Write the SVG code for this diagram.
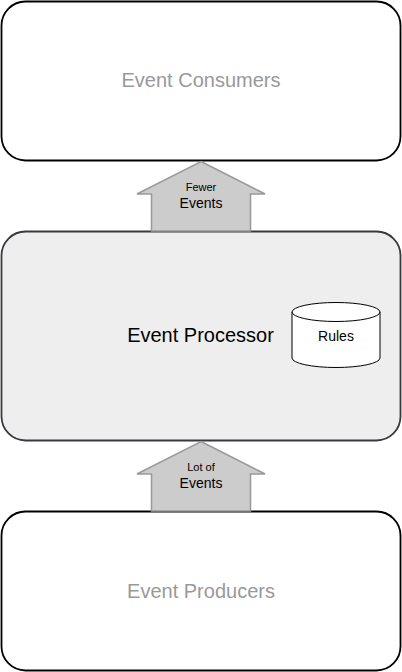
<svg xmlns="http://www.w3.org/2000/svg" width="402" height="672" viewBox="0 0 402 672">
<style>
.box{fill:#ffffff;stroke:#000000;stroke-width:1.8}
.proc{fill:#eeeeee;stroke:#36393d;stroke-width:1.8}
.arrow{fill:#cccccc;stroke:#999999;stroke-width:1.5;stroke-linejoin:miter}
.t{font-family:"Liberation Sans",Arial,sans-serif;text-anchor:middle}
.title{font-size:20px;fill:#999999}
.cyl{fill:#ffffff;stroke:#000000;stroke-width:1}
</style>
<rect width="402" height="672" fill="#ffffff"/>
<g id="consumers">
<rect class="box" x="1.5" y="1.5" width="399" height="159" rx="24" ry="24"/>
<text class="t title" x="201" y="87">Event Consumers</text>
</g>
<g id="processor">
<rect class="proc" x="1.5" y="231.5" width="399" height="209" rx="24" ry="24"/>
<text class="t" x="200.5" y="342" font-size="20" fill="#000000">Event Processor</text>
</g>
<g id="rules">
<path class="cyl" d="M292,312 A44,9.5 0 0 1 380,312 L380,358 A44,9.5 0 0 1 292,358 Z"/>
<path class="cyl" fill="none" d="M292,312 A44,9.5 0 0 0 380,312"/>
<text class="t" x="336" y="341" font-size="14" fill="#000000">Rules</text>
</g>
<g id="producers">
<rect class="box" x="1.5" y="511.5" width="399" height="159" rx="24" ry="24"/>
<text class="t title" x="201" y="598">Event Producers</text>
</g>
<g id="connectors">
<g id="arrow-fewer">
<polygon class="arrow" points="201,161.5 265,194 250.5,194 250.5,231 151.5,231 151.5,194 137,194"/>
<text class="t" x="201" y="190.5" font-size="11" fill="#000000">Fewer</text>
<text class="t" x="201" y="207.5" font-size="14" fill="#000000">Events</text>
</g>
<g id="arrow-lot">
<polygon class="arrow" points="201,441.5 265,474 250.5,474 250.5,511 151.5,511 151.5,474 137,474"/>
<text class="t" x="201" y="470.5" font-size="11" fill="#000000">Lot of</text>
<text class="t" x="201" y="487.5" font-size="14" fill="#000000">Events</text>
</g>
</g>
</svg>
